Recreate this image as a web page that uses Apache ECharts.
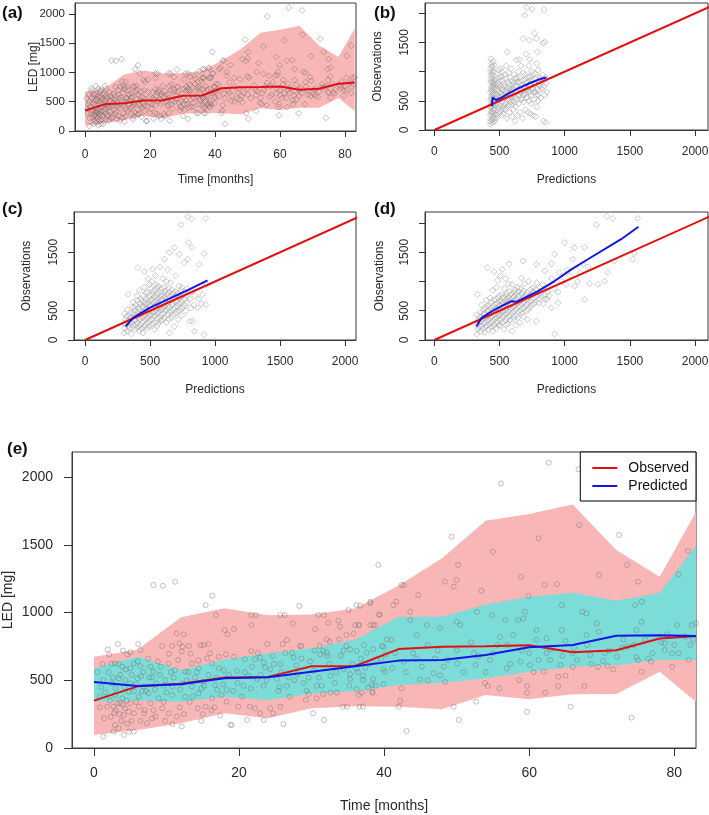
<!DOCTYPE html>
<html><head><meta charset="utf-8">
<script src="https://cdn.jsdelivr.net/npm/echarts@6/dist/echarts.min.js"></script>
<style>html,body{margin:0;padding:0;background:#fff}#c{width:709px;height:815px}</style>
</head><body><div id="c"></div>
<script>
// ---------- DATA ----------
const timeBins   = [0,6,12,18,24,30,36,42,48,54,60,66,72,78,83];
const obsMedian  = [350,455,475,520,525,603,605,730,748,752,758,706,722,808,826];
const predMedian = [488,458,470,515,522,563,603,645,649,686,743,760,829,833,826];
const obsUpper   = [674,725,965,1031,980,985,1030,1200,1400,1677,1727,1798,1461,1264,1744];
const obsLower   = [96,133,182,256,219,293,308,305,286,391,359,396,399,563,342];
const predUpper  = [588,674,576,654,699,736,800,969,969,1060,1117,1146,1087,1146,1498];
const predLower  = [342,350,342,379,354,403,418,465,482,514,563,600,613,649,649];

const timeTicks = [0,20,40,60,80];
const ledTicks  = [0,500,1000,1500,2000];
const predTicks = [0,500,1000,1500,2000];
const obsTickLabels = [0,500,1500];

// observed LED vs time (months)
const ledPoints = [
[8.2,1203],[9.5,1198],[11.2,1227],[16.3,1124],[15.4,1055],[16.8,981],
[1.9,728],[3.3,767],[6.1,767],[18,871],[18.4,839],[11.4,846],[12.4,839],
[9.4,753],[10.8,753],[11.8,773],[12.2,748],[13.1,753],[14.7,760],[15.1,760],[15.8,767],
[5,706],[6.4,723],[4.6,690],[7.5,659],[10.3,696],[12.1,713],[13.3,696],[14.4,645],[15.6,662],[17.2,674],[18.2,691],
[2.9,624],[3.9,600],[5,588],[5.5,624],[6.4,604],[7.8,600],[8.2,563],[9.2,600],[10.3,624],[11.2,575],[12.6,563],[13.5,624],[14.4,588],[16.3,624],[17.2,588],[17.9,575],
[1.3,501],[2.5,477],[3.4,514],[4.3,501],[5,477],[6,514],[6.9,453],[8.6,477],[9.8,501],[10.8,453],[12.1,477],[13.5,453],[15.1,490],[16.7,465],[18.3,428],
[2.9,391],[3.9,367],[4.8,416],[6.2,379],[7.5,404],[8.9,367],[10.8,391],[12.6,379],[14.4,404],[16.3,367],[17.6,391],
[1.8,305],[2.7,305],[3.6,330],[4.3,293],[4.8,268],[4.1,244],[5.5,256],[6.2,305],[6.9,256],[7.3,183],[8,219],[8.5,232],[9.4,293],[10.3,256],[11.4,232],[10.8,176],[12.1,159],[14.3,293],[15.4,305],[18.3,342],[18.8,170],
[2.9,170],[3.4,146],[2.7,121],[4.1,96],[4.8,121],[5.5,121],[1.3,84],
[3,280],[3.5,250],[4,320],[4.5,350],[5,330],[2.2,350],[3.8,200],[5.8,340],[1,450],[0.5,560],[2,560],[0.8,380],[2.4,620],[4,720],[6.5,530],[3,440],[5.5,420],[7,280],
[39.2,1351],[28.3,1048],[36.7,1050],[38.1,1079],[35.1,1018],[39.3,987],[21.7,981],[22.3,981],[25.7,981],[26.3,981],[30.9,981],[31.7,981],
[19.3,878],[21.7,907],[27.4,920],[30.5,878],[32.3,925],[33.7,940],[33.9,895],[36,907],[36.5,907],[38.1,907],[38.8,907],
[34.8,834],[32.1,802],[32.5,785],[33.8,802],[23.9,767],[26,767],[26.6,797],[28.4,753],[28.6,753],[31.1,753],[21.7,716],[19.3,674],
[20.8,655],[22.2,655],[22.9,667],[23.4,631],[23.6,594],[25.7,619],[27.3,704],[27.5,667],[31.2,692],[31.6,716],[32.1,704],[34.8,753],[35.3,728],[36.2,716],[37.6,704],[38.5,728],[39.7,753],[40.4,802],
[19.7,570],[21.3,533],[22.5,509],[24.3,582],[25.2,509],[26.8,521],[28,545],[30.3,570],[32.6,533],[34.4,582],[35.3,509],[37.1,533],[38.5,509],[39.9,582],
[19.2,422],[20.6,459],[23.4,459],[25.4,422],[26.6,459],[29.3,422],[30.7,459],[32.6,410],[33.5,410],[36.2,434],[37.8,447],[39.9,471],
[19.9,305],[21.5,305],[22.2,293],[22.9,256],[23.4,207],[21.1,207],[19,170],[24.3,293],[24.7,256],[25.7,305],[26.1,176],[29.6,398],[29.2,354],[30.7,367],[31.6,398],[30.2,256],[31.7,207],[34.3,305],[34.9,305],[36.6,305],[36.5,391],[38.4,416],
[62.7,2106],[66.8,2057],[56.1,1953],[49.3,1560],[61.3,1548],[66.9,1646],[72.4,1572],[55,1449],[50.2,1351],[73.5,1351],[81.9,1456],[80.6,1282],[42.4,1203],[42.7,1203],[44.7,1129],[48.4,1228],[50,1240],[49.6,1191],[53.4,1161],[58.9,1264],[62.1,1203],[63.8,1210],[69.6,1277],[75,1228],[59.9,1124],
[43.1,125],[50.3,207],[59.7,267],[74.1,224],
[37.1,305],[42,305],[49.6,305],[52.7,342],[65.7,305],[42.2,349],
[36.9,408],[38.4,408],[42.4,440],[54.3,458],[55.9,440],[62.2,408],[64,458],[67.6,458],[59.7,408],[59.7,458],
[44.9,506],[47.7,537],[48.4,488],[53.9,480],[58.6,500],
[62,563],[64,526],[65,534],[66,600],[69.5,600],[70.8,605],[71.6,580],[75.5,563],[76.8,637],[79.7,600],[75,649],[74.8,669],
[35.3,546],[36.2,588],[37.1,502],[38.3,465],[40.1,563],[41.1,588],[42.7,637],[45.2,600],[46.8,551],[48.2,600],[50.1,625],[52.6,612],[54.6,649],[56.9,588],[58.8,637],[60.1,612],[61.3,649],[62.9,649],[64.3,612],[66.6,649],[68.4,686],[70.2,642],[72.1,674],[73.5,748],[78.7,723],[79.7,698],[82.2,760],[83,920],
[36.2,1055],[38.1,1068],[41.3,1055],[41.7,1080],[39.4,981],[43.6,1006],[43.6,944],[45.9,908],[47.7,883],[50,932],[50.5,908],[52.8,1006],[54.9,981],[56.7,944],[57.8,834],[58.5,944],[59.2,957],[59.4,1006],[62.4,809],[64.5,1055],[67.3,1006],[67.9,993],[69.3,920],[69.6,858],[67.9,834],[74.6,1055],[75.5,1080],[75.5,932],[74.8,871],[80.4,908],[82.4,908],[81.5,822],[78.7,772],[64.5,871],[61,871],[44.5,834],[41,797],[39.9,748],[35.8,846],[38.5,908],[36.5,908],
[44,700],[46,760],[50,720],[52,780],[55,700],[57,760],[60,700],[63,730],[66,700],[68,760],[71,720],[73,800],[77,700],[80,760],[82,650],[47,660],[53,680],[56,820],[61,800],[65,790],[76,800],[79,840],
[1.2,620],[2.1,690],[3.6,540],[4.4,580],[5.8,470],[6.8,560],[7.6,520],[8.4,430],[9.1,540],[10,410],[11,520],[11.9,430],[13,560],[13.9,520],[14.8,440],[15.8,540],[16.9,520],[17.8,470],
[2.3,230],[3.2,330],[5.2,200],[6.6,420],[7.8,330],[9.6,340],[11.8,300],[13.2,340],[15,250],[16.6,300],[17.4,240],
[20.4,380],[21.8,600],[23,540],[24.6,680],[25.8,560],[27,380],[27.9,610],[28.9,480],[29.8,640],[31,520],[32.4,620],[33.2,480],[34,680],[35.6,620],[36.8,660],[37.4,590],[38.9,650],[40.2,690],
[0.8,300],[1.6,410],[2.6,520],[3.4,620],[4.2,450],[5.2,540],[6,640],[7.2,420],[8,520],[8.8,640],[9.6,460],[10.6,560],[11.6,650],[12.8,500],[13.6,380],[14.2,560],[15.2,460],[16,700],[17,430],[18.6,540],
[1.4,220],[2.8,260],[4.6,180],[6.4,200],[8.2,280],[9.8,200],[12.4,250],[14.8,200],[16.2,280],
[19.8,480],[20.8,560],[21.6,440],[22.6,700],[23.8,500],[24.8,620],[25.6,450],[26.4,700],[27.6,500],[28.6,660],[29.6,520],[30.4,720],[31.4,460],[32.2,680],[33.4,560],[34.4,720],[35.2,460],[36.4,560],[37.2,760],[38,620],[38.8,460],[39.6,660],
[41.5,700],[43,560],[44.4,660],[46,500],[47.4,720],[48.8,650],[51,560],[52.4,700],[54,560],[55.6,760],[57.4,620],[59,720],[60.6,560],[62.4,700],[64.6,680],[66.2,740],[68.6,620],[70.4,700],[72.8,740],[74.4,760],[76.4,660],[78.2,780],[80.6,700],[82.6,800]
];

// (b) observations vs population predictions
const pointsB = [
[432,100],[436,180],[430,250],[441,320],[433,380],[438,450],[431,520],[444,600],[435,680],[440,750],[432,820],[437,900],[434,1000],[442,1100],[433,1220],
[447,130],[452,220],[449,300],[455,360],[446,430],[451,500],[458,560],[448,640],[454,720],[450,790],[457,860],[446,950],[455,1170],
[463,150],[468,260],[461,340],[470,420],[465,480],[472,550],[462,620],[469,700],[466,780],[474,880],[461,1110],
[478,200],[486,330],[482,440],[490,520],[479,600],[488,690],[484,800],[493,1030],
[498,300],[505,420],[502,560],[509,650],[497,780],[506,900],[511,1050],
[517,250],[524,380],[521,480],[529,600],[515,700],[526,850],[519,1000],
[538,350],[545,450],[541,550],[549,640],[535,750],[544,950],[552,1100],
[557,200],[566,420],[561,520],[569,620],[555,720],[563,820],[560,1340],
[577,300],[585,480],[581,580],[589,680],[575,780],[583,900],[591,1050],
[598,230],[606,350],[601,500],[610,600],[596,700],[604,800],[612,950],
[617,150],[626,400],[621,550],[629,650],[615,750],[624,880],[631,1200],
[638,250],[646,450],[641,600],[650,700],[636,820],[644,1000],[652,1210],
[657,300],[666,520],[661,640],[669,760],[655,900],[664,1100],
[677,200],[686,480],[681,600],[690,720],[675,850],[684,980],[681,1570],
[698,350],[706,550],[701,680],[710,800],[696,950],[704,1300],[694,1970],[706,2100],
[718,300],[726,500],[721,650],[730,780],[716,900],[724,1100],
[737,280],[745,450],[741,600],[750,720],[735,850],[744,1000],[732,1210],[729,1540],[750,2070],
[757,250],[766,520],[761,650],[770,800],[755,950],[770,1660],
[777,230],[786,400],[781,600],[790,700],[775,880],[786,1140],[783,1570],
[797,500],[806,680],[801,780],[810,900],[795,1030],[791,1340],
[817,550],[826,700],[821,820],[829,950],
[837,150],[846,600],[841,750],[849,880],[834,1490],[842,2060],
[855,130],[864,650],[859,800],[852,900],[847,1510],
[430,140],[434,290],[431,410],[436,560],[430,640],[439,720],[433,860],[436,950],[431,1050],[438,1150],
[444,170],[447,260],[443,400],[449,470],[442,530],[447,680],[444,820],[449,1000],[445,1080],
[458,190],[456,300],[459,450],[457,600],[456,740],[460,830],[458,990],
[485,250],[492,380],[488,560],[494,650],[486,750],[491,900],
[512,330],[508,520],[513,620],[510,760],[513,920],
[532,280],[530,420],[533,580],[531,690],[533,800],
[552,380],[550,580],[553,680],[550,880],
[572,420],[570,540],[573,720],[571,980],
[592,440],[594,560],[590,650],[593,840],
[613,480],[612,700],[614,820],
[634,520],[632,760],[635,900],
[655,600],[653,690],[654,820],
[676,540],[674,680],[676,780],
[697,620],[695,740],[697,870],
[715,560],[714,700],[716,820],
[735,660],[734,780],[733,920],
[756,700],[754,860],
[776,650],[775,780],[774,960],
[796,600],[796,840],
[815,760],[814,880]
];
const loessB = [[442,410],[447,554],[455,530],[475,514],[520,560],[580,640],[660,730],[740,810],[820,880],[860,900]];

// (c) observations vs individual predictions
const pointsC = [
[300,120],[306,200],[298,280],[310,350],[303,450],
[326,150],[334,250],[329,330],[337,420],[324,520],[332,780],
[356,100],[363,200],[359,300],[367,380],[354,460],[362,560],[368,650],
[386,180],[394,260],[389,340],[397,420],[384,500],[392,600],[399,750],[407,1237],
[416,150],[424,250],[419,350],[427,430],[414,520],[422,620],[429,700],[418,850],[458,1168],
[446,120],[454,220],[449,320],[457,410],[444,480],[452,560],[459,650],[447,760],[455,900],[522,1208],
[476,200],[484,300],[479,380],[487,460],[474,540],[482,620],[489,720],[477,820],[485,1050],
[506,250],[514,350],[509,430],[517,520],[504,600],[512,690],[519,780],[507,880],[515,1000],
[536,180],[544,300],[539,420],[547,500],[534,580],[542,660],[549,750],[537,850],[545,950],[541,1100],
[566,280],[574,380],[569,480],[577,560],[564,640],[572,720],[579,820],[567,920],[575,1250],
[596,350],[604,450],[599,540],[607,620],[594,700],[602,800],[609,900],[597,1050],[611,1380],
[626,300],[634,430],[629,520],[637,610],[624,700],[632,780],[639,880],[627,1000],[635,1200],
[649,120],[664,380],[659,500],[667,600],[654,680],[662,760],[669,860],[657,980],[649,1494],
[686,1580],[694,450],[689,560],[697,650],[684,740],[692,830],[699,1100],[687,230],
[716,350],[724,500],[719,620],[727,720],[714,800],[722,920],[725,1466],
[738,1969],[754,560],[749,680],[757,780],[744,900],[763,1323],[746,420],
[776,500],[784,640],[779,760],[787,880],[789,1380],[797,1666],[789,2107],
[806,320],[814,550],[809,700],[817,820],[822,1580],[822,2078],
[840,149],[827,321],[836,600],[844,760],
[866,550],[874,700],[878,1294],
[896,620],[904,780],[916,1477],
[916,92],[929,607],[935,950],[929,2078],
[315,260],[320,400],[340,200],[345,300],[350,380],[372,250],[378,330],[376,450],[380,560],[405,220],[402,300],[408,390],[406,470],[410,560],[404,680],
[433,200],[436,300],[438,380],[435,480],[440,580],[436,660],[462,250],[466,350],[463,450],[468,520],[465,600],[470,700],[467,800],
[493,230],[496,330],[492,420],[498,500],[494,580],[500,660],[497,760],[495,950],
[522,280],[526,400],[524,470],[528,560],[525,640],[529,730],[523,830],
[552,240],[556,360],[554,460],[558,540],[553,620],[557,700],[555,800],[552,900],
[582,330],[586,430],[584,520],[588,600],[583,680],[587,760],[585,880],
[612,380],[616,500],[614,580],[618,660],[613,740],[617,840],
[642,360],[646,470],[644,560],[648,650],[643,740],[647,820],
[676,420],[679,520],[675,620],[678,700],[676,800],
[706,480],[708,580],[704,680],[707,760],
[736,540],[738,640],[734,740],[737,850],
[766,600],[768,700],[765,820]
];
const loessC = [[313,235],[369,378],[496,550],[674,733],[802,864],[942,1019]];

// (d) observations vs predictions (third model)
const pointsD = [
[326,100],[334,180],[329,260],[337,340],[324,430],[332,780],
[356,150],[364,240],[359,320],[367,400],[354,480],[362,600],
[386,130],[394,220],[389,300],[397,380],[384,460],[392,550],[399,680],[407,1237],
[416,180],[424,270],[419,350],[427,430],[414,510],[422,600],[429,720],[458,1168],
[446,150],[454,240],[449,330],[457,420],[444,500],[452,580],[459,680],[447,850],[522,1208],
[476,200],[484,300],[479,380],[487,460],[474,540],[482,620],[489,720],[477,900],[485,1020],
[506,250],[514,350],[509,440],[517,520],[504,600],[512,680],[519,780],[507,1100],
[536,180],[544,330],[539,430],[547,510],[534,590],[542,670],[549,760],[537,880],[545,1050],
[566,280],[574,400],[569,490],[577,570],[564,650],[572,730],[579,830],[567,960],[575,1300],
[596,150],[604,350],[599,470],[607,560],[594,640],[602,720],[609,820],[597,950],
[626,250],[634,420],[629,530],[637,620],[624,700],[632,790],[639,900],
[656,300],[664,500],[659,600],[667,680],[654,770],[662,880],[669,1060],
[686,400],[694,560],[689,650],[697,740],[684,840],[692,960],
[716,350],[724,520],[719,640],[727,730],[714,820],[722,1000],
[746,600],[754,700],[749,800],[757,900],
[776,650],[784,750],[779,870],[787,980],
[806,700],[814,800],[809,900],
[836,620],[844,760],[841,850],
[866,700],[874,820],
[880,760],[920,880],[950,820],[980,1000],[1010,950],[1040,1100],[900,1050],[960,1150],[1020,1200],[1100,1000],[1120,1150],[1180,1250],
[1323,2113],[1369,2078],[1560,2078],[1242,1969],[1000,1666],[1076,1580],[1153,1580],[923,1466],[898,1305],[1063,1380],[1140,1294],[783,1294],[847,1179],[681,1351],[1535,1477],[1522,1380],[1382,1351],[1331,1151],[1255,950],[1306,1008],[1191,962],[1153,693],[1076,922],[949,635],[898,550],[783,321],[923,103],
[340,220],[345,300],[350,400],[372,190],[378,280],[376,360],[380,440],[382,520],
[405,250],[402,330],[408,410],[406,490],[410,580],
[433,220],[436,300],[438,390],[435,470],[440,550],[436,640],
[462,270],[466,360],[463,450],[468,530],[465,610],[470,700],
[493,250],[496,340],[492,420],[498,500],[494,580],[500,660],[497,760],
[522,300],[526,400],[524,480],[528,560],[525,640],[529,730],
[552,260],[556,370],[554,460],[558,540],[553,620],[557,700],[555,800],
[582,340],[586,440],[584,530],[588,610],[583,690],[587,780],
[612,400],[616,500],[614,590],[618,670],[613,750],[617,860],
[642,380],[646,480],[644,570],[648,650],[643,740],[647,830],
[676,460],[679,540],[675,620],[678,710],[676,800],
[706,500],[708,600],[704,690],[707,780],
[736,560],[738,660],[734,760],[737,860],
[766,620],[768,720],[765,820],
[800,640],[820,740],[850,700],[870,900],[830,950]
];
const loessD = [[324,235],[362,378],[464,521],[592,664],[630,653],[668,693],[796,836],[923,1008],[1051,1208],[1178,1380],[1433,1723],[1566,1935]];
const identityLine = [[0,0],[2300,2300]];

// ---------- CHART ----------
const FONT = '"Liberation Sans", Arial, Helvetica, sans-serif';
const TXT = '#2a2a2a';
const chart = echarts.init(document.getElementById('c'), null, {renderer:'canvas'});

const gridBox = {show:true, borderColor:'#3a3a3a', borderWidth:1, backgroundColor:'rgba(0,0,0,0)', containLabel:false, outerBoundsMode:'none'};
const grids = [
  {left:75, top:3, width:281, height:128},
  {left:425, top:3, width:283, height:127},
  {left:74, top:212, width:282, height:128},
  {left:425, top:212, width:283, height:128},
  {left:72, top:452, width:624, height:296}
].map(g => Object.assign({}, gridBox, g));

const plain = v => String(v);

function xAx(gi, min, max, ticks, name, fs, nameGap, tickLen, margin){
  return {type:'value', gridIndex:gi, position:'bottom', min:min, max:max, name:name, nameLocation:'middle', nameGap:nameGap,
    nameMoveOverlap:false,
    nameTextStyle:{fontSize:fs, color:TXT, fontFamily:FONT},
    axisLine:{show:true, onZero:false, lineStyle:{color:'#3a3a3a', width:1}}, splitLine:{show:false},
    axisTick:{show:true, inside:false, length:tickLen, lineStyle:{color:'#333', width:1}, customValues:ticks},
    axisLabel:{fontSize:fs, color:TXT, fontFamily:FONT, margin:margin, customValues:ticks, formatter:plain}};
}
function yAx(gi, min, max, ticks, labels, name, fs, nameGap, tickLen, margin, rot, lfs){
  return {type:'value', gridIndex:gi, position:'left', min:min, max:max, name:name, nameLocation:'middle', nameGap:nameGap, nameRotate:90,
    nameMoveOverlap:false,
    nameTextStyle:{fontSize:fs, color:TXT, fontFamily:FONT},
    axisLine:{show:true, onZero:false, lineStyle:{color:'#3a3a3a', width:1}}, splitLine:{show:false},
    axisTick:{show:true, inside:false, length:tickLen, lineStyle:{color:'#333', width:1}, customValues:ticks},
    axisLabel:{fontSize:lfs || fs, color:TXT, fontFamily:FONT, margin:margin, customValues:labels, rotate:rot, formatter:plain}};
}

const xAxes = [
  xAx(0, -3.1, 83.4, timeTicks, 'Time [months]', 12, 43, 6, 18),
  xAx(1, -71, 2099, predTicks, 'Predictions', 12, 44, 6, 16),
  xAx(2, -85, 2084, predTicks, 'Predictions', 12, 44, 6, 16),
  xAx(3, -71, 2099, predTicks, 'Predictions', 12, 44, 6, 16),
  xAx(4, -3.03, 83.0, timeTicks, 'Time [months]', 14, 51, 8, 18)
];
const yAxes = [
  yAx(0, 0, 2185, ledTicks, ledTicks, 'LED [mg]', 12, 35, 6, 10, 0, 11.5),
  yAx(1, 0, 2177, ledTicks, obsTickLabels, 'Observations', 12, 41, 6, 14, 90),
  yAx(2, 0, 2188, ledTicks, obsTickLabels, 'Observations', 12, 41, 6, 14, 90),
  yAx(3, 0, 2188, ledTicks, obsTickLabels, 'Observations', 12, 39, 6, 14, 90),
  yAx(4, 0, 2185, ledTicks, ledTicks, 'LED [mg]', 14, 57, 8, 19, 0)
];

function band(gi, upper, lower, color, z){
  return {type:'custom', xAxisIndex:gi, yAxisIndex:gi, silent:true, z:z,
    data:[[timeBins[0], lower[0]]],
    renderItem:function(params, api){
      const pts = [];
      for (let i=0;i<timeBins.length;i++) pts.push(api.coord([timeBins[i], upper[i]]));
      for (let i=timeBins.length-1;i>=0;i--) pts.push(api.coord([timeBins[i], lower[i]]));
      return {type:'polygon', shape:{points:pts}, style:{fill:color}};
    }};
}
function pairs(xs, ys){ return xs.map((x,i)=>[x, ys[i]]); }
function scatter(gi, data, symbol, size, border, z){
  return {type:'scatter', xAxisIndex:gi, yAxisIndex:gi, data:data, symbol:symbol, symbolSize:size, silent:true, z:z,
    itemStyle:{color:'rgba(0,0,0,0)', borderColor:border, borderWidth:0.9}};
}
function line(gi, name, data, color, width, z){
  return {type:'line', name:name, xAxisIndex:gi, yAxisIndex:gi, data:data, showSymbol:false, symbol:'none', silent:true, z:z,
    lineStyle:{color:color, width:width}, itemStyle:{color:color}, clip:true};
}

const PINK = '#f9b6b6', CYAN = '#7cdcd8', RED = '#e01010', BLUE = '#1414e6';

const series = [
  band(0, obsUpper, obsLower, PINK, 1),
  scatter(0, ledPoints, 'diamond', 6, 'rgba(110,100,100,0.6)', 3),
  line(0, 'obsA', pairs(timeBins, obsMedian), RED, 2, 5),
  scatter(1, pointsB, 'diamond', 6, 'rgba(165,165,165,0.8)', 3),
  line(1, 'idB', identityLine, RED, 2, 5),
  line(1, 'loB', loessB, BLUE, 2, 6),
  scatter(2, pointsC, 'diamond', 6, 'rgba(165,165,165,0.8)', 3),
  line(2, 'idC', identityLine, RED, 2, 5),
  line(2, 'loC', loessC, BLUE, 2, 6),
  scatter(3, pointsD, 'diamond', 6, 'rgba(165,165,165,0.8)', 3),
  line(3, 'idD', identityLine, RED, 2, 5),
  line(3, 'loD', loessD, BLUE, 2, 6),
  band(4, obsUpper, obsLower, PINK, 1),
  band(4, predUpper, predLower, CYAN, 2),
  scatter(4, ledPoints, 'circle', 5, 'rgba(110,110,110,0.6)', 3),
  line(4, 'Observed', pairs(timeBins, obsMedian), RED, 2, 5),
  line(4, 'Predicted', pairs(timeBins, predMedian), BLUE, 2, 6)
];

const titleStyle = {fontSize:17, fontWeight:'bold', color:'#111', fontFamily:FONT};
chart.setOption({
  animation:false,
  backgroundColor:'#fff',
  title:[
    {text:'(a)', left:2, top:5, textStyle:titleStyle, padding:0},
    {text:'(b)', left:374, top:5, textStyle:titleStyle, padding:0},
    {text:'(c)', left:2, top:201, textStyle:titleStyle, padding:0},
    {text:'(d)', left:374, top:201, textStyle:titleStyle, padding:0},
    {text:'(e)', left:7, top:441, textStyle:titleStyle, padding:0}
  ],
  legend:{show:true, data:['Observed','Predicted'], right:13, top:452, orient:'vertical',
    itemWidth:25, itemHeight:2, itemGap:4, icon:'rect',
    textStyle:{fontSize:14, color:'#111', fontFamily:FONT, padding:[0,0,0,6]},
    backgroundColor:'#fff', borderColor:'#000', borderWidth:1, borderRadius:0, padding:[9,7,8,12], z:20},
  grid:grids, xAxis:xAxes, yAxis:yAxes, series:series
});
</script></body></html>
